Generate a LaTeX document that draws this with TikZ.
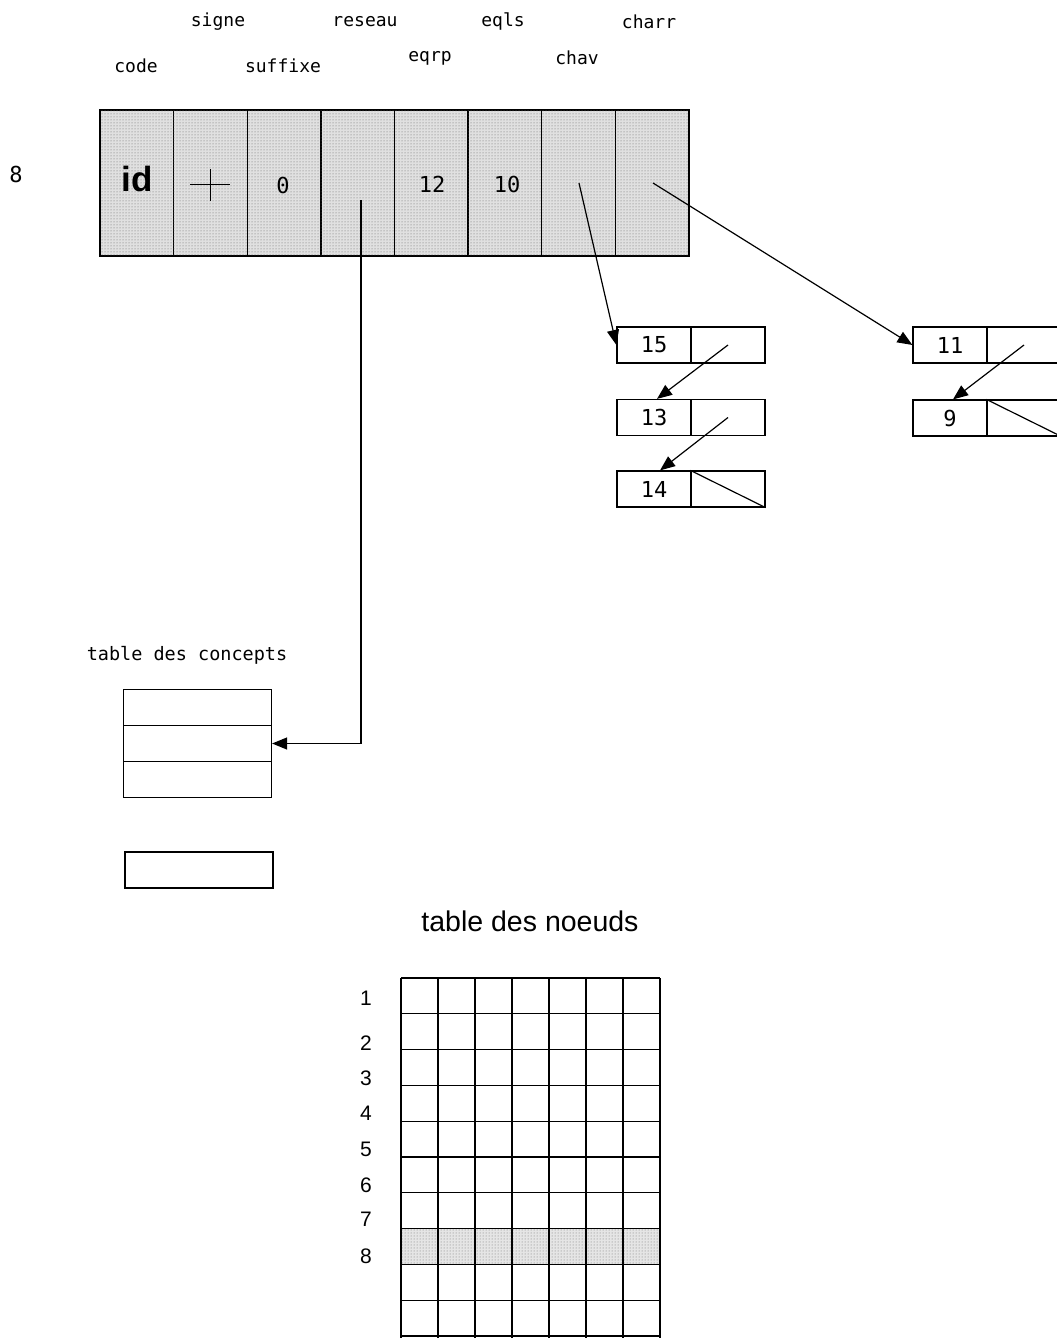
\documentclass[tikz,border=0pt]{standalone}
\usepackage{fontspec}
\setmainfont{Liberation Sans}
\newfontfamily\monof{DejaVu Sans Mono}
\usetikzlibrary{arrows.meta,patterns}
\begin{document}
\begin{tikzpicture}[x=1pt,y=-1pt,
  lbl/.style={font=\monof\fontsize{18}{18}\selectfont, inner sep=0},
  num/.style={font=\monof\fontsize{22}{22}\selectfont, inner sep=0},
  reccell/.style={draw, line width=1.3pt, minimum width=73.625pt, minimum height=146pt, inner sep=0,
     fill=black!12, postaction={pattern=dots, pattern color=black!60}},
  listcell/.style={draw, line width=1.2pt, minimum width=74pt, minimum height=36pt, inner sep=0,
     font=\monof\fontsize{22}{22}\selectfont},
  tabcell/.style={draw, line width=1.2pt, minimum width=148pt, minimum height=36pt, inner sep=0},
  ptr/.style={-{Triangle[length=15pt,width=12pt]}, line width=1.2pt},
  gridline/.style={line width=1.2pt}
]
\useasboundingbox (0,0) rectangle (1057,1338);

% header labels
\node[lbl] (lsigne) at (218,22) {signe};
\node[lbl] (lreseau) at (365,22) {reseau};
\node[lbl] (leqls) at (503,22) {eqls};
\node[lbl] (lcharr) at (649,22) {charr};
\node[lbl] (lcode) at (136,66) {code};
\node[lbl] (lsuffixe) at (283,66) {suffixe};
\node[lbl] (leqrp) at (430,58) {eqrp};
\node[lbl] (lchav) at (577,58) {chav};

% row index
\node[num] (idx8) at (16,174) {8};

% main record
\foreach \i/\nm in {0/code,1/signe,2/suffixe,3/reseau,4/eqrp,5/eqls,6/chav,7/charr}
  \node[reccell] (r-\nm) at ({100+73.625*(\i+0.5)},183) {};

\node[font=\bfseries\fontsize{35}{35}\selectfont, inner sep=0] (idtxt) at (137,179) {id};
\draw[line width=0.9pt] (190,184) -- (230,184) (210,169) -- (210,201);
\node[num] (v0) at (283,185) {0};
\node[num] (v12) at (432,184) {12};
\node[num] (v10) at (507,184) {10};

% linked lists
\node[listcell] (b15a) at (654,345) {15};
\node[listcell] (b15b) at (728,345) {};
\node[listcell] (b13a) at (654,417.5) {13};
\node[listcell] (b13b) at (728,417.5) {};
\node[listcell] (b14a) at (654,489) {14};
\node[listcell] (b14b) at (728,489) {};
\draw[line width=1.2pt] (b14b.north west) -- (b14b.south east);

\node[listcell] (b11a) at (950,345) {11};
\node[listcell] (b11b) at (1024,345) {};
\node[listcell] (b9a) at (950,418) {9};
\node[listcell] (b9b) at (1024,418) {};
\draw[line width=1.2pt] (b9b.north west) -- (b9b.south east);

% pointers
\coordinate (chavp) at (579,183);
\coordinate (charrp) at (653,183);
\coordinate (resp) at (361,200);
\draw[ptr] (chavp) -- (b15a.west);
\draw[ptr] (charrp) -- (b11a.west);
\draw[ptr] (b15b.center) -- ([xshift=3pt]b13a.north);
\draw[ptr] (b13b.center) -- ([xshift=6pt]b14a.north);
\draw[ptr] (b11b.center) -- ([xshift=3pt]b9a.north);

% table des concepts
\node[font=\monof\fontsize{18.5}{18.5}\selectfont, inner sep=0] (tconc) at (187,655) {table des concepts};
\node[tabcell] (c1) at (197.5,707.5) {};
\node[tabcell] (c2) at (197.5,743.5) {};
\node[tabcell] (c3) at (197.5,779.5) {};
\node[tabcell] (cx) at (199,870) {};
\draw[ptr] (resp) |- (c2.east);

% table des noeuds
\node[font=\fontsize{28.5}{28.5}\selectfont, inner sep=0] (tnoeuds) at (530,921) {table des noeuds};
\fill[fill=black!10, postaction={pattern=dots, pattern color=black!55}] (401,1228.6) rectangle (660,1264.4);
\foreach \k in {0,...,7}
  \draw[gridline] ({401+37*\k},978) -- ({401+37*\k},1338);
\foreach \k in {0,...,10}
  \draw[gridline] (401,{978+35.8*\k}) -- (660,{978+35.8*\k});
\foreach \n/\yy in {1/998,2/1043,3/1078,4/1113,5/1149,6/1185,7/1219,8/1256}
  \node[font=\fontsize{21}{21}\selectfont, inner sep=0] (rl\n) at (366,\yy) {\n};
\end{tikzpicture}
\end{document}
